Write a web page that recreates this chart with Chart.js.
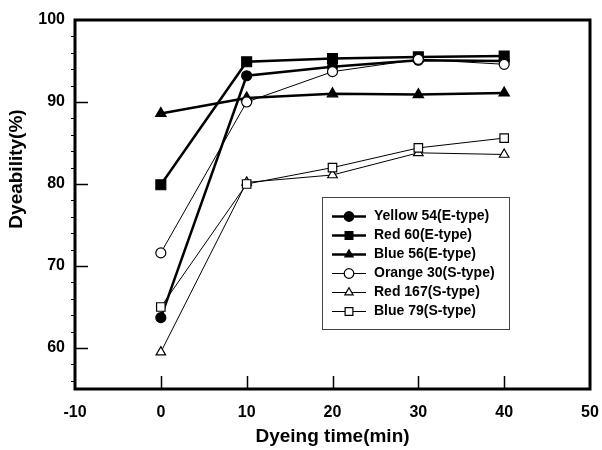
<!DOCTYPE html>
<html>
<head>
<meta charset="utf-8">
<script src="https://cdn.jsdelivr.net/npm/chart.js@4/dist/chart.umd.min.js"></script>
<style>
html,body{margin:0;padding:0;background:#fff;}
#wrap{width:602px;height:450px;position:relative;}
</style>
</head>
<body>
<div id="wrap"><canvas id="c" width="602" height="450"></canvas></div>
<script>
const times = [0, 10, 20, 30, 40];
const yellow54 = [63.7, 93.2, 94.3, 95.1, 95.0];
const red60 = [79.9, 94.9, 95.3, 95.5, 95.6];
const blue56 = [88.6, 90.5, 91.0, 90.9, 91.1];
const orange30 = [71.6, 90.0, 93.7, 95.2, 94.6];
const red167 = [59.5, 80.2, 81.1, 83.8, 83.6];
const blue79 = [65.0, 80.0, 82.0, 84.4, 85.6];
const labels = ["Yellow 54(E-type)", "Red 60(E-type)", "Blue 56(E-type)", "Orange 30(S-type)", "Red 167(S-type)", "Blue 79(S-type)"];
const xTicks = [-10, 0, 10, 20, 30, 40, 50];
const yTicks = [60, 70, 80, 90, 100];
const xTitle = "Dyeing time(min)";
const yTitle = "Dyeability(%)";

const FONT = "'Liberation Sans', Arial, sans-serif";

function mk(label, vals, style, filled, radius, lw, order) {
  return {
    label: label,
    data: times.map((t, i) => ({x: t, y: vals[i]})),
    borderColor: '#000',
    backgroundColor: filled ? '#000' : '#fff',
    borderWidth: lw,
    pointStyle: style,
    pointRadius: radius,
    pointBorderWidth: 1.2,
    pointBorderColor: '#000',
    pointBackgroundColor: filled ? '#000' : '#fff',
    tension: 0,
    fill: false,
    order: order
  };
}

const datasets = [
  mk(labels[0], yellow54, 'circle', true, 5, 2.5, 5),
  mk(labels[1], red60, 'rect', true, 7, 2.5, 4),
  mk(labels[2], blue56, 'triangle', true, 6, 2.5, 3),
  mk(labels[3], orange30, 'circle', false, 5, 1, 2),
  mk(labels[4], red167, 'triangle', false, 5.5, 1, 1),
  mk(labels[5], blue79, 'rect', false, 6, 1, 0)
];

const framePlugin = {
  id: 'frame',
  afterDraw(chart) {
    const ctx = chart.ctx;
    const a = chart.chartArea;
    const xs = chart.scales.x, ys = chart.scales.y;
    ctx.save();
    ctx.strokeStyle = '#000';
    // major ticks inward
    ctx.lineWidth = 1.5;
    ctx.beginPath();
    xTicks.forEach(v => {
      if (v <= xs.min || v >= xs.max) return;
      const px = Math.round(xs.getPixelForValue(v)) + 0.5;
      ctx.moveTo(px, a.bottom);
      ctx.lineTo(px, a.bottom - 13);
    });
    yTicks.forEach(v => {
      if (v <= ys.min || v >= ys.max) return;
      const py = Math.round(ys.getPixelForValue(v)) + 0.5;
      ctx.moveTo(a.left, py);
      ctx.lineTo(a.left + 13, py);
    });
    ctx.stroke();
    // minor ticks outward
    ctx.lineWidth = 1;
    ctx.beginPath();
    for (let v = 56; v < 100; v += 2) {
      if (v % 10 === 0) continue;
      const py = Math.round(ys.getPixelForValue(v)) + 0.5;
      ctx.moveTo(a.left, py);
      ctx.lineTo(a.left - 4, py);
    }
    ctx.stroke();
    // frame
    ctx.lineWidth = 3;
    ctx.strokeRect(a.left, a.top, a.right - a.left, a.bottom - a.top);

    // y title
    ctx.fillStyle = '#000';
    ctx.font = "bold 19px " + FONT;
    ctx.textAlign = 'center';
    ctx.textBaseline = 'middle';
    ctx.translate(17, 169);
    ctx.rotate(-Math.PI / 2);
    ctx.fillText(yTitle, 0, 0);
    ctx.restore();

    // legend
    ctx.save();
    const bx = 322.5, by = 197.5, bw = 187, bh = 132;
    ctx.fillStyle = '#fff';
    ctx.fillRect(bx, by, bw, bh);
    ctx.strokeStyle = '#444';
    ctx.lineWidth = 1;
    ctx.strokeRect(bx, by, bw, bh);
    ctx.font = "bold 14px " + FONT;
    ctx.textAlign = 'left';
    ctx.textBaseline = 'middle';
    chart.data.datasets.forEach((ds, i) => {
      const yy = 216.5 + i * 19;
      ctx.strokeStyle = '#000';
      ctx.lineWidth = ds.borderWidth >= 2 ? 2.5 : 1;
      ctx.beginPath();
      ctx.moveTo(332, yy);
      ctx.lineTo(366, yy);
      ctx.stroke();
      ctx.fillStyle = ds.pointBackgroundColor;
      ctx.strokeStyle = '#000';
      ctx.lineWidth = 1.2;
      Chart.helpers.drawPoint(ctx, {pointStyle: ds.pointStyle, rotation: 0, borderWidth: 1.2, radius: ds.pointStyle === 'rect' ? 5.5 : 4.8}, 349, yy);
      ctx.fillStyle = '#000';
      ctx.fillText(ds.label, 374, yy);
    });
    ctx.restore();
  }
};

new Chart(document.getElementById('c'), {
  type: 'line',
  data: {datasets: datasets},
  options: {
    responsive: false,
    animation: false,
    devicePixelRatio: 1,
    layout: {padding: {left: 0, top: 20, right: 12, bottom: 0}},
    plugins: {legend: {display: false}, tooltip: {enabled: false}},
    scales: {
      x: {
        type: 'linear',
        min: -10, max: 50,
        afterFit(s) { s.height = 61; s.paddingLeft = 0; s.paddingRight = 0; },
        afterBuildTicks(s) { s.ticks = xTicks.map(v => ({value: v})); },
        grid: {display: false, drawTicks: false, tickLength: 0},
        border: {display: false},
        ticks: {color: '#000', font: {family: FONT, size: 16, weight: 'bold'}, padding: 14, maxRotation: 0, autoSkip: false},
        title: {display: true, text: xTitle, color: '#000', font: {family: FONT, size: 19, weight: 'bold'}, padding: {top: 0, bottom: 2}}
      },
      y: {
        type: 'linear',
        min: 55, max: 100,
        afterFit(s) { s.width = 75; },
        afterBuildTicks(s) { s.ticks = yTicks.map(v => ({value: v})); },
        grid: {display: false, drawTicks: false, tickLength: 0},
        border: {display: false},
        ticks: {color: '#000', font: {family: FONT, size: 16, weight: 'bold'}, padding: 10, autoSkip: false}
      }
    }
  },
  plugins: [framePlugin]
});
</script>
</body>
</html>
